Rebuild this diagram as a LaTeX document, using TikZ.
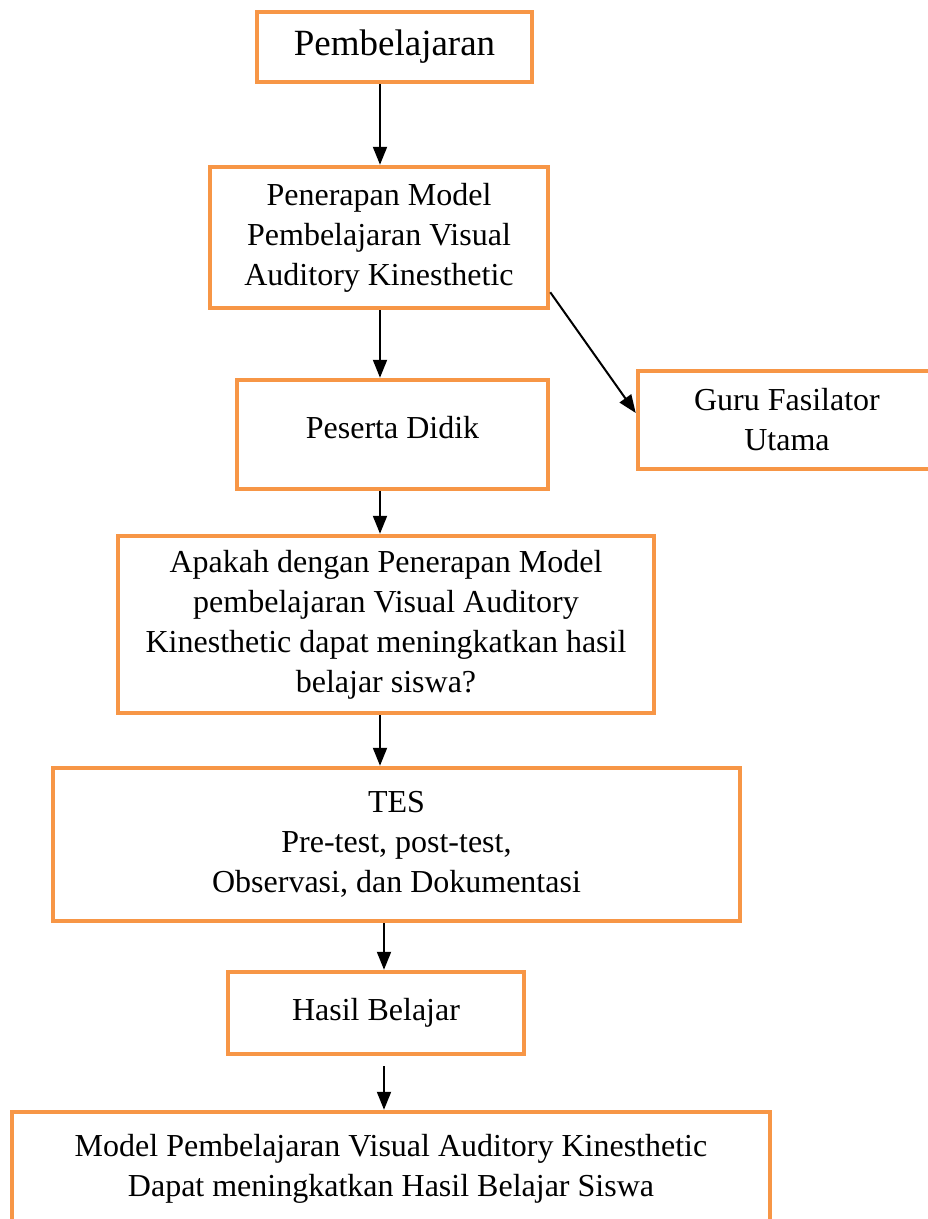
\documentclass[tikz,border=0pt]{standalone}
\usepackage{fontspec}
\setmainfont{Liberation Serif}
\usetikzlibrary{arrows.meta}
\definecolor{boxorange}{HTML}{F79646}

\begin{document}
\begin{tikzpicture}[x=1pt,y=-1pt,
  kotak/.style={draw=boxorange, line width=4.5pt, align=center, inner sep=0pt,
    font=\fontsize{32}{40}\selectfont},
  panah/.style={line width=2pt, -{Triangle[length=18pt,width=14pt]}}]
\clip (0,0) rectangle (928,1219);
% kotak alur
\node[kotak, minimum width=275pt, minimum height=70pt, font=\fontsize{37}{44}\selectfont] (b1) at (394.5,47) {Pembelajaran};
\node[kotak, minimum width=338pt, minimum height=141pt] (b2) at (379,237.5) {Penerapan Model\\Pembelajaran Visual\\Auditory Kinesthetic};
\node[kotak, minimum width=311pt, minimum height=109pt, text depth=14pt] (b3) at (392.5,434.5) {Peserta Didik};
\node[kotak, minimum width=298pt, minimum height=98pt] (b4) at (787,420) {Guru Fasilator\\Utama};
\node[kotak, minimum width=536pt, minimum height=177pt] (b5) at (386,624.5) {Apakah dengan Penerapan Model\\pembelajaran Visual Auditory\\Kinesthetic dapat meningkatkan hasil\\belajar siswa?};
\node[kotak, minimum width=687pt, minimum height=153pt] (b6) at (396.5,844.5) {TES\\Pre-test, post-test,\\Observasi, dan Dokumentasi};
\node[kotak, minimum width=296pt, minimum height=82pt] (b7) at (376,1013) {Hasil Belajar};
\node[kotak, minimum width=758pt, minimum height=113pt] (b8) at (391,1168.5) {Model Pembelajaran Visual Auditory Kinesthetic\\Dapat meningkatkan Hasil Belajar Siswa};
% panah
\coordinate (ax) at (380,0);
\coordinate (bx) at (384,0);
\draw[panah] (b1.south -| ax) -- (b2.north -| ax);
\draw[panah] (b2.south -| ax) -- (b3.north -| ax);
\draw[panah] (b3.south -| ax) -- (b5.north -| ax);
\draw[panah] (b5.south -| ax) -- (b6.north -| ax);
\draw[panah] (b6.south -| bx) -- (b7.north -| bx);
\draw[panah, shorten <=10pt] (b7.south -| bx) -- (b8.north -| bx);
\draw[panah] ([yshift=18pt]b2.south east) -- ([yshift=7pt]b4.west);
\end{tikzpicture}
\end{document}
